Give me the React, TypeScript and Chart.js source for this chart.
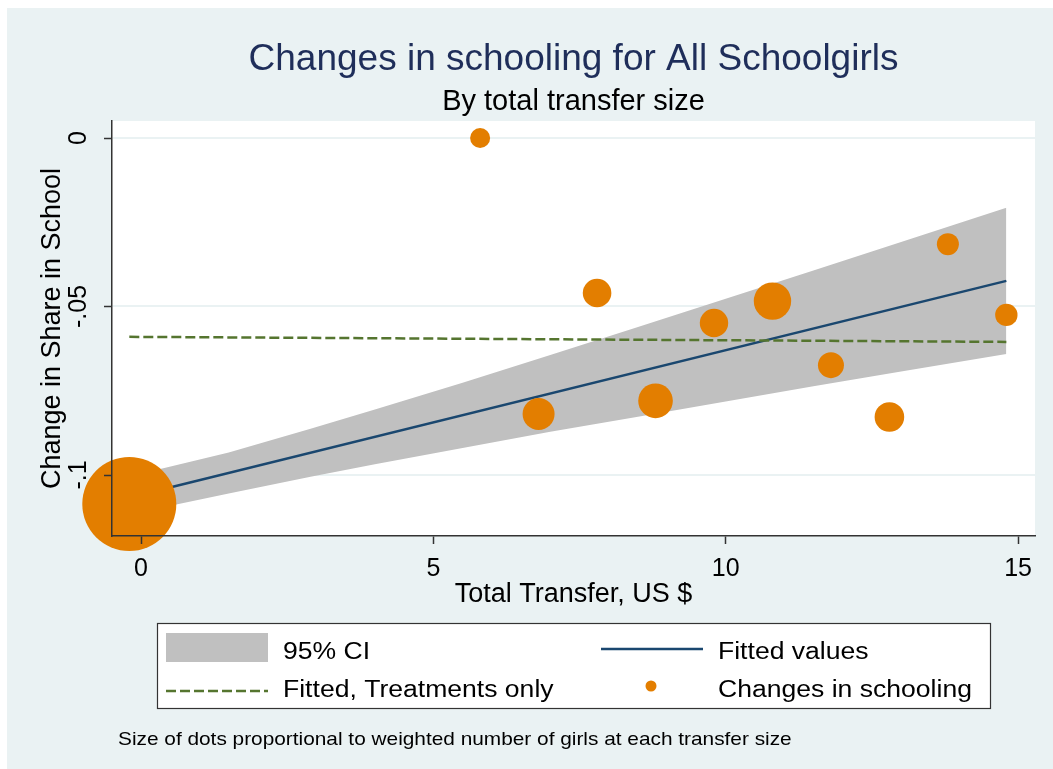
import React, { useEffect, useRef } from 'react';
import { Chart, registerables } from 'chart.js';

Chart.register(...registerables);

const FONT = "'Liberation Sans', Arial, Helvetica, sans-serif";

// ---------- data ----------
const titleText = 'Changes in schooling for All Schoolgirls';
const subtitleText = 'By total transfer size';
const xAxisTitle = 'Total Transfer, US $';
const yAxisTitle = 'Change in Share in School';
const noteText = 'Size of dots proportional to weighted number of girls at each transfer size';

const xTickValues = [0, 5, 10, 15];
const xTickLabels = ['0', '5', '10', '15'];
const yTickValues = [-0.1, -0.05, 0];
const yTickLabels = ['-.1', '-.05', '0'];

// scatter: changes in schooling by transfer size
const transferSize = [-0.2, 5.8, 6.8, 7.8, 8.8, 9.8, 10.8, 11.8, 12.8, 13.8, 14.8];
const schoolingChange = [-0.1086, 0.0, -0.0819, -0.046, -0.078, -0.0549, -0.0484, -0.0674, -0.0828, -0.0315, -0.0525];
const girlsWeight = [2210, 100, 256, 204, 300, 202, 350, 169, 219, 121, 125];

// fitted values (all)
const fitX = [-0.2, 14.8];
const fitY = [-0.1067, -0.0424];

// fitted, treatments only
const treatFitX = [-0.2, 14.8];
const treatFitY = [-0.059, -0.0605];

// 95% CI band
const ciX = [-0.2, 0.4, 1.5, 2.9, 4, 5.5, 7, 8.5, 10, 11.5, 13, 14.8];
const ciUpper = [-0.1003, -0.0979, -0.0933, -0.0863, -0.0806, -0.0726, -0.0644, -0.0561, -0.0477, -0.0393, -0.0309, -0.0207];
const ciLower = [-0.112, -0.1095, -0.1055, -0.1005, -0.0968, -0.092, -0.0872, -0.0827, -0.0782, -0.0737, -0.0693, -0.0641];

// ---------- styles ----------
const BG = '#EAF2F3';
const CI_COLOR = '#C0C0C0';
const FIT_COLOR = '#1A476F';
const TREAT_COLOR = '#55752F';
const DOT_COLOR = '#E37E00';
const AXIS_COLOR = '#333333';
const TITLE_COLOR = '#1F2E5A';

const pts = (xs: number[], ys: number[]) => xs.map((x, i) => ({ x, y: ys[i] }));

const wideText = (ctx: CanvasRenderingContext2D, text: string, x: number, y: number, size: number, sx: number) => {
  ctx.save();
  ctx.translate(x, y);
  ctx.scale(sx, 1);
  ctx.font = `${size}px ${FONT}`;
  ctx.textAlign = 'left';
  ctx.textBaseline = 'alphabetic';
  ctx.fillText(text, 0, 0);
  ctx.restore();
};

const decorPlugin = {
  id: 'stataDecor',
  beforeDraw(chart: any) {
    const { ctx, chartArea: a } = chart;
    ctx.save();
    ctx.fillStyle = '#ffffff';
    ctx.fillRect(0, 0, chart.width, chart.height);
    ctx.fillStyle = BG;
    ctx.fillRect(7, 8, chart.width - 7, chart.height - 8);
    ctx.fillStyle = '#ffffff';
    ctx.fillRect(a.left, a.top, a.right - a.left, a.bottom - a.top);
    ctx.restore();
  },
  afterDatasetsDraw(chart: any) {
    const { ctx } = chart;
    const ys = chart.scales.y;
    ctx.save();
    ctx.strokeStyle = AXIS_COLOR;
    ctx.lineWidth = 1.5;
    for (const t of ys.ticks) {
      const py = Math.round(ys.getPixelForValue(t.value)) + 0.5;
      ctx.beginPath();
      ctx.moveTo(ys.right - 8, py);
      ctx.lineTo(ys.right, py);
      ctx.stroke();
    }
    ctx.restore();
  },
  afterDraw(chart: any) {
    const { ctx, chartArea: a } = chart;
    const cx = (a.left + a.right) / 2;
    const ds = chart.data.datasets;
    ctx.save();
    ctx.textBaseline = 'alphabetic';
    // title & subtitle
    ctx.textAlign = 'center';
    ctx.fillStyle = TITLE_COLOR;
    ctx.font = `37px ${FONT}`;
    ctx.fillText(titleText, cx, 70);
    ctx.fillStyle = '#000000';
    ctx.font = `29px ${FONT}`;
    ctx.fillText(subtitleText, cx, 110);

    // legend box
    ctx.fillStyle = '#ffffff';
    ctx.fillRect(157, 623, 834, 86);
    ctx.strokeStyle = AXIS_COLOR;
    ctx.lineWidth = 1.2;
    ctx.strokeRect(157.5, 623.5, 833, 85);

    const LS = 23.5;
    const LX = 1.13;
    // 95% CI
    ctx.fillStyle = ds[0].backgroundColor;
    ctx.fillRect(166, 633, 102, 29);
    ctx.fillStyle = '#000000';
    wideText(ctx, ds[0].label, 283, 659, LS, LX);
    // Fitted values
    ctx.strokeStyle = ds[2].borderColor;
    ctx.lineWidth = ds[2].borderWidth;
    ctx.beginPath();
    ctx.moveTo(601, 649);
    ctx.lineTo(703, 649);
    ctx.stroke();
    wideText(ctx, ds[2].label, 718, 659, LS, LX);
    // Fitted, Treatments only
    ctx.strokeStyle = ds[3].borderColor;
    ctx.lineWidth = ds[3].borderWidth;
    ctx.setLineDash(ds[3].borderDash);
    ctx.beginPath();
    ctx.moveTo(166, 691);
    ctx.lineTo(268, 691);
    ctx.stroke();
    ctx.setLineDash([]);
    wideText(ctx, ds[3].label, 283, 697, LS, LX);
    // Changes in schooling
    ctx.fillStyle = ds[4].backgroundColor;
    ctx.beginPath();
    ctx.arc(651, 686, 5.5, 0, Math.PI * 2);
    ctx.fill();
    ctx.fillStyle = '#000000';
    wideText(ctx, ds[4].label, 718, 697, LS, LX);

    // note
    wideText(ctx, noteText, 118, 745, 18.6, 1.12);
    ctx.restore();
  },
};

export default function App() {
  const ref = useRef<HTMLCanvasElement>(null);

  useEffect(() => {
    const canvas = ref.current;
    if (!canvas) return;
    Chart.defaults.font.family = FONT;
    const chart = new Chart(canvas, {
      type: 'line',
      data: {
        datasets: [
          {
            type: 'line',
            label: '95% CI',
            data: pts(ciX, ciUpper),
            borderWidth: 0,
            borderColor: 'rgba(0,0,0,0)',
            backgroundColor: CI_COLOR,
            pointRadius: 0,
            fill: '+1',
            tension: 0,
            order: 4,
          },
          {
            type: 'line',
            label: 'CI lower',
            data: pts(ciX, ciLower),
            borderWidth: 0,
            borderColor: 'rgba(0,0,0,0)',
            backgroundColor: CI_COLOR,
            pointRadius: 0,
            fill: false,
            tension: 0,
            order: 5,
          },
          {
            type: 'line',
            label: 'Fitted values',
            data: pts(fitX, fitY),
            borderColor: FIT_COLOR,
            borderWidth: 2.5,
            pointRadius: 0,
            fill: false,
            order: 2,
          },
          {
            type: 'line',
            label: 'Fitted, Treatments only',
            data: pts(treatFitX, treatFitY),
            borderColor: TREAT_COLOR,
            borderWidth: 2.5,
            borderDash: [10, 4],
            pointRadius: 0,
            fill: false,
            order: 1,
          },
          {
            type: 'scatter',
            label: 'Changes in schooling',
            data: pts(transferSize, schoolingChange),
            backgroundColor: DOT_COLOR,
            borderWidth: 0,
            pointRadius: (c: any) => Math.sqrt(girlsWeight[c.dataIndex] ?? 100),
            pointHoverRadius: (c: any) => Math.sqrt(girlsWeight[c.dataIndex] ?? 100),
            clip: false as any,
            order: 0,
          },
        ] as any,
      },
      options: {
        responsive: false,
        animation: false,
        events: [],
        layout: { autoPadding: false, padding: { top: 121, left: 0, right: 18, bottom: 153 } },
        plugins: {
          legend: { display: false },
          tooltip: { enabled: false },
          title: { display: false },
        },
        scales: {
          x: {
            type: 'linear',
            min: -0.496,
            max: 15.29,
            afterBuildTicks: (s: any) => {
              s.ticks = xTickValues.map((v) => ({ value: v }));
            },
            afterFit: (s: any) => {
              s.height = 80;
            },
            ticks: {
              autoSkip: false,
              maxRotation: 0,
              minRotation: 0,
              padding: 10,
              color: '#000000',
              font: { size: 25, family: FONT },
              callback: (_v: any, i: number) => xTickLabels[i],
            },
            grid: {
              display: true,
              drawOnChartArea: false,
              drawTicks: true,
              tickLength: 8,
              tickColor: AXIS_COLOR,
              tickWidth: 1.5,
              z: 1,
            },
            border: { display: true, color: AXIS_COLOR, width: 1.5, z: 1 },
            title: {
              display: true,
              text: xAxisTitle,
              color: '#000000',
              font: { size: 27, family: FONT },
              padding: { top: 0, bottom: 5 },
            },
          },
          y: {
            type: 'linear',
            min: -0.1181,
            max: 0.00504,
            afterBuildTicks: (s: any) => {
              s.ticks = yTickValues.map((v) => ({ value: v }));
            },
            afterFit: (s: any) => {
              s.width = 112;
            },
            ticks: {
              autoSkip: false,
              minRotation: 90,
              maxRotation: 90,
              crossAlign: 'center',
              padding: 11,
              color: '#000000',
              font: { size: 25, family: FONT },
              callback: (_v: any, i: number) => yTickLabels[i],
            },
            grid: {
              display: true,
              drawOnChartArea: true,
              drawTicks: false,
              color: BG,
              lineWidth: 2,
            },
            border: { display: true, color: AXIS_COLOR, width: 1.5, z: 1 },
            title: {
              display: true,
              text: yAxisTitle,
              color: '#000000',
              font: { size: 27, family: FONT },
              padding: { top: 36, bottom: 0 },
            },
          },
        },
      } as any,
      plugins: [decorPlugin],
    });
    return () => chart.destroy();
  }, []);

  return (
    <div style={{ position: 'absolute', left: 0, top: 0, width: 1053, height: 769 }}>
      <canvas ref={ref} width={1053} height={769} style={{ display: 'block', width: 1053, height: 769 }} />
    </div>
  );
}
